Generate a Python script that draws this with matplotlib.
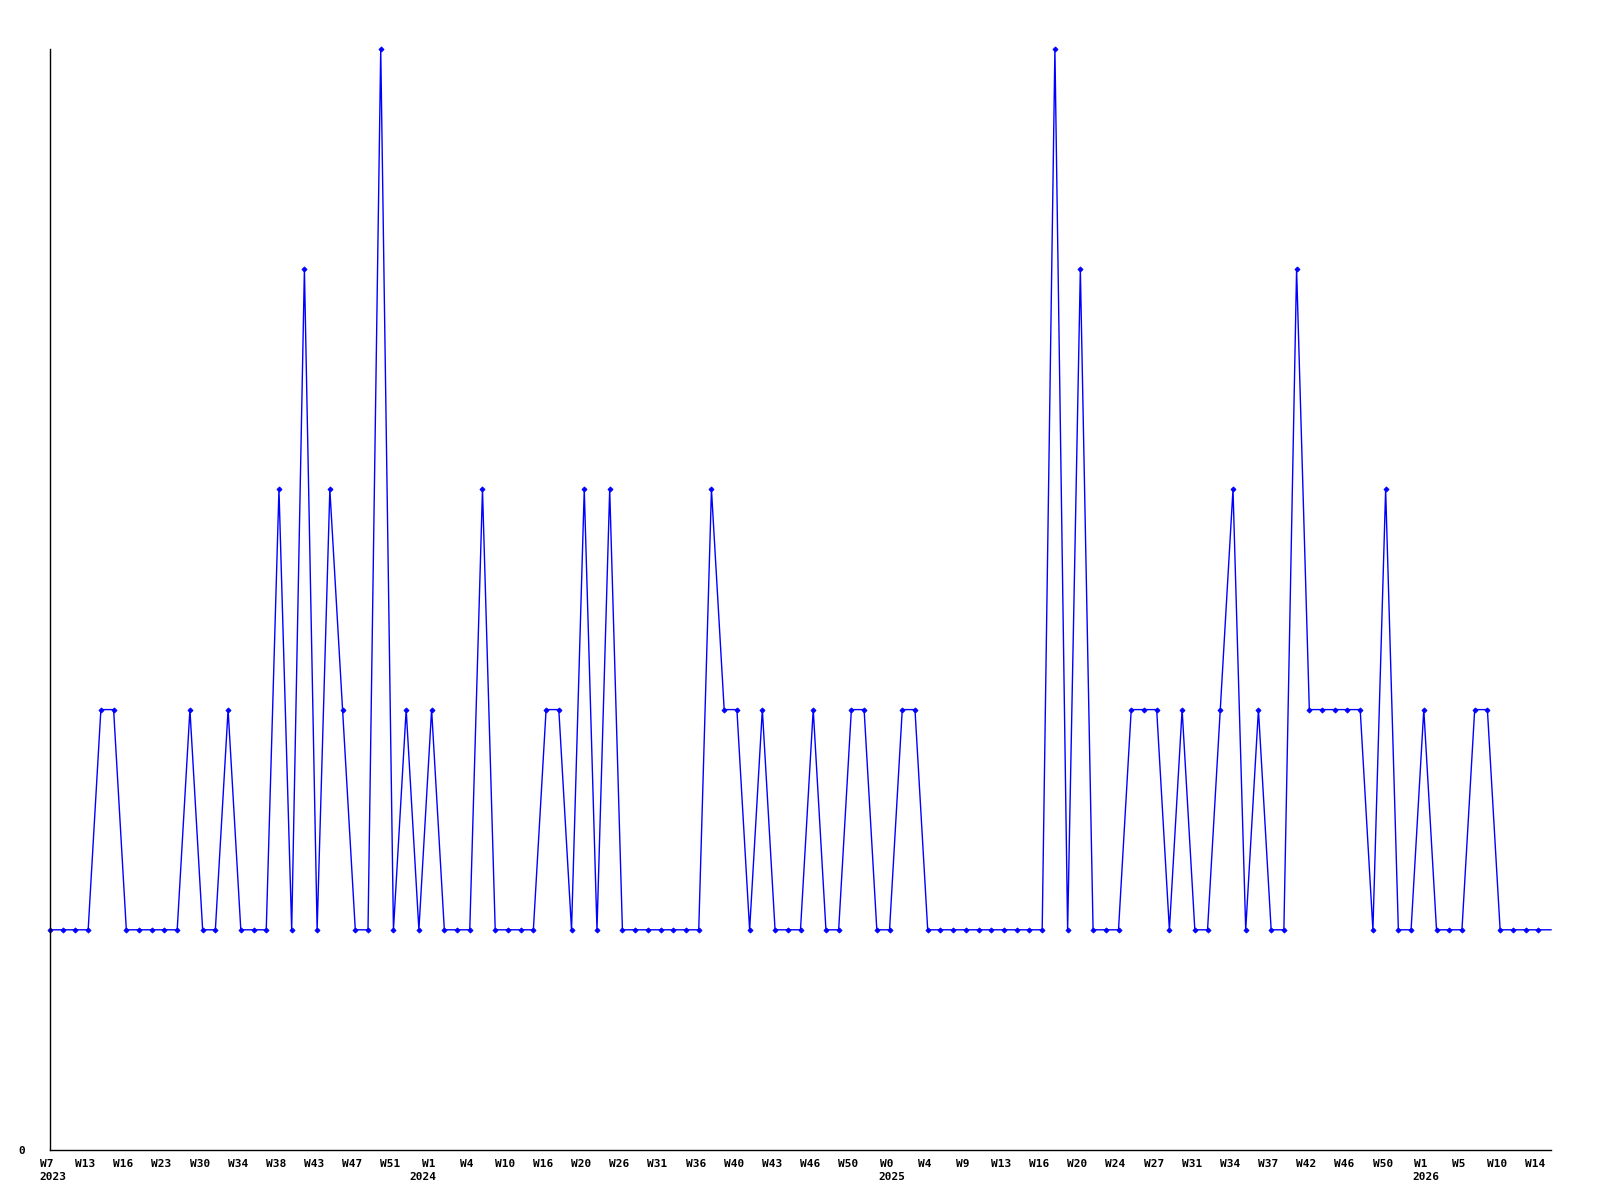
import matplotlib
matplotlib.use("Agg")
import matplotlib.pyplot as plt
import matplotlib.transforms as mtransforms

values = [1, 1, 1, 1, 2, 2, 1, 1, 1, 1,
          1, 2, 1, 1, 2, 1, 1, 1, 3, 1,
          4, 1, 3, 2, 1, 1, 5, 1, 2, 1,
          2, 1, 1, 1, 3, 1, 1, 1, 1, 2,
          2, 1, 3, 1, 3, 1, 1, 1, 1, 1,
          1, 1, 3, 2, 2, 1, 2, 1, 1, 1,
          2, 1, 1, 2, 2, 1, 1, 2, 2, 1,
          1, 1, 1, 1, 1, 1, 1, 1, 1, 5,
          1, 4, 1, 1, 1, 2, 2, 2, 1, 2,
          1, 1, 2, 3, 1, 2, 1, 1, 4, 2,
          2, 2, 2, 2, 1, 3, 1, 1, 2, 1,
          1, 1, 2, 2, 1, 1, 1, 1, 1]

week_labels = ["W7", "W13", "W16", "W23", "W30", "W34", "W38", "W43", "W47", "W51",
               "W1", "W4", "W10", "W16", "W20", "W26", "W31", "W36", "W40", "W43",
               "W46", "W50", "W0", "W4", "W9", "W13", "W16", "W20", "W24", "W27",
               "W31", "W34", "W37", "W42", "W46", "W50", "W1", "W5", "W10", "W14"]
label_step = 3

year_labels = ["2023", "2024", "2025", "2026"]
year_tick_index = [0, 10, 22, 36]   # which week label each year sits under

font = {"family": "DejaVu Sans Mono", "weight": "bold", "size": 8}

fig = plt.figure(figsize=(16, 12), dpi=100)
ax = fig.add_axes([50 / 1600, 1 - 1150 / 1200, 1501 / 1600, 1101 / 1200])

x = list(range(len(values)))
ax.plot(x, values, color="#0000ff", linewidth=1.0, marker="D", markersize=2.6,
        markeredgewidth=0.6, markevery=list(range(len(values) - 1)), clip_on=False)

ax.set_xlim(0, len(values) - 1)
ax.set_ylim(0, 5)

for side in ["top", "right"]:
    ax.spines[side].set_visible(False)
for side in ["left", "bottom"]:
    ax.spines[side].set_color("black")
    ax.spines[side].set_linewidth(1.0)

tick_pos = [i * label_step for i in range(len(week_labels))]
ax.set_xticks(tick_pos)
ax.set_xticklabels(week_labels, fontdict=font)
ax.tick_params(axis="x", length=0, pad=6.5)

shift = mtransforms.ScaledTranslation(-3 / 100, 0, fig.dpi_scale_trans)
for lab in ax.get_xticklabels():
    lab.set_transform(lab.get_transform() + shift)

ax.set_yticks([0])
ax.set_yticklabels(["0"], fontdict=font)
ax.tick_params(axis="y", length=0, pad=18)

for lbl, ti in zip(year_labels, year_tick_index):
    xi = tick_pos[ti]
    dx = -8.0 if lbl != "2024" else -16.0
    ax.annotate(lbl, xy=(xi, 0), xycoords=("data", "axes fraction"),
                xytext=(dx, -15.8), textcoords="offset points",
                ha="left", va="top", **font, annotation_clip=False)

fig.savefig("out.png", dpi=100)
